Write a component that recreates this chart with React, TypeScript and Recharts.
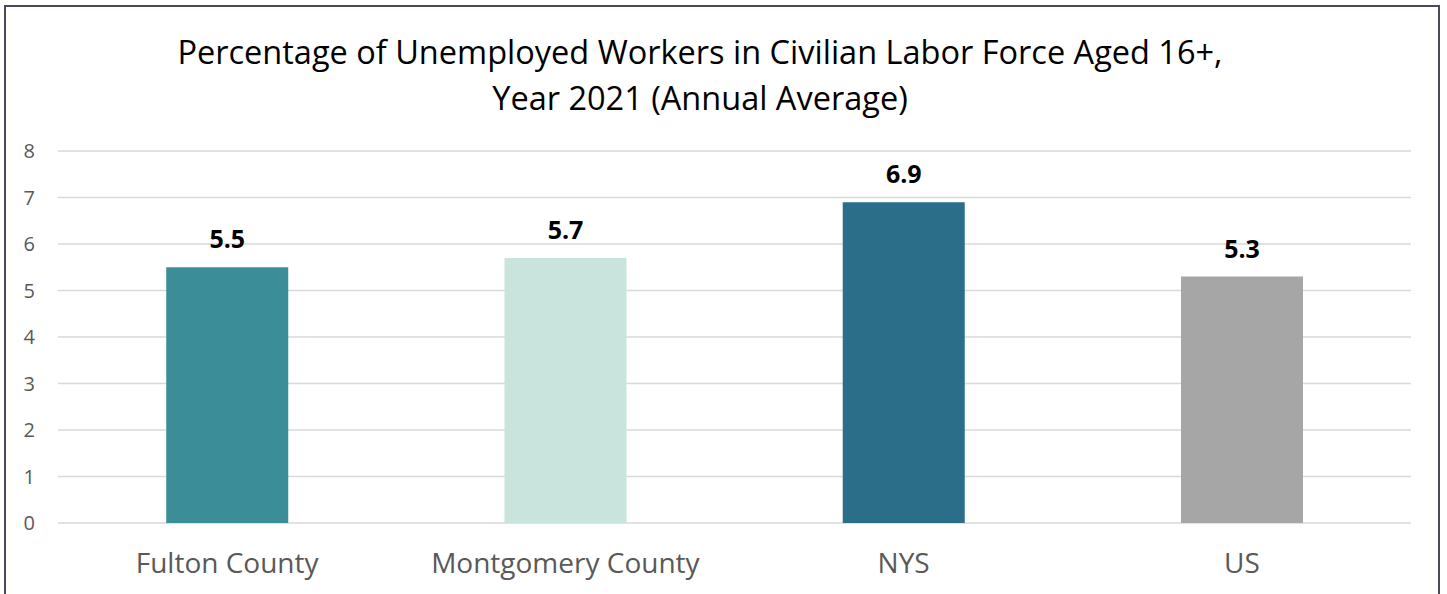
import React from "react";
import { BarChart, Bar, XAxis, YAxis, CartesianGrid, Cell, LabelList } from "recharts";

const categories = ["Fulton County", "Montgomery County", "NYS", "US"];
const values = [5.5, 5.7, 6.9, 5.3];
const colors = ["#3B8E97", "#C9E4DC", "#2A6E8A", "#A6A6A6"];
const yTicks = [0, 1, 2, 3, 4, 5, 6, 7, 8];
const titleLines = [
  "Percentage of Unemployed Workers in Civilian Labor Force Aged 16+,",
  "Year 2021 (Annual Average)",
];

const data = categories.map((c, i) => ({ name: c, value: values[i] }));

export default function App() {
  const font = "'Open Sans', 'Noto Sans', sans-serif";
  return (
    <div style={{ position: "absolute", left: 0, top: 0, width: 1447, height: 594, overflow: "hidden", background: "#fff", fontFamily: font }}>
      <div style={{ position: "absolute", left: 4, top: 5, width: 1432, height: 640, border: "2px solid #4a4a5c" }} />
      <div style={{ position: "absolute", left: 0, top: 29, width: 1400, textAlign: "center", fontSize: 32.5, lineHeight: "46px", color: "#000" }}>
        {titleLines.map((t, i) => (
          <div key={i}>{t}</div>
        ))}
      </div>
      <div style={{ position: "absolute", left: 0, top: 0 }}>
        <BarChart width={1447} height={594} data={data} margin={{ top: 151, right: 36, bottom: 41, left: 0 }} barCategoryGap="32%">
          <CartesianGrid vertical={false} stroke="#d9d9d9" strokeWidth={1.5} />
          <XAxis
            dataKey="name"
            axisLine={false}
            tickLine={false}
            tickSize={0}
            tickMargin={30}
            tick={{ fill: "#595959", fontSize: 28, fontFamily: font }}
            interval={0}
          />
          <YAxis
            width={58}
            domain={[0, 8]}
            ticks={yTicks}
            axisLine={false}
            tickLine={false}
            tickSize={0}
            tickMargin={23}
            tick={{ fill: "#595959", fontSize: 20, fontFamily: font }}
          />
          <Bar dataKey="value" isAnimationActive={false}>
            {data.map((d, i) => (
              <Cell key={d.name} fill={colors[i]} />
            ))}
            <LabelList dataKey="value" position="top" offset={19} style={{ fill: "#000", fontSize: 25, fontWeight: 700, fontFamily: font }} formatter={(v: number) => v.toFixed(1)} />
          </Bar>
        </BarChart>
      </div>
    </div>
  );
}
